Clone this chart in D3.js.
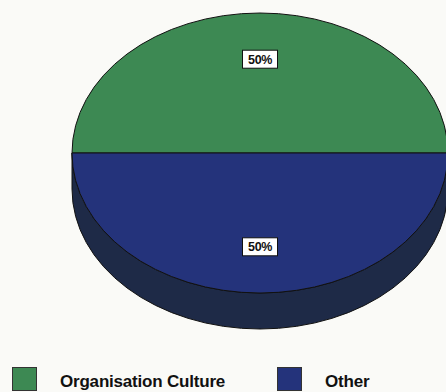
<!DOCTYPE html>
<html>
<head>
<meta charset="utf-8">
<script src="https://cdn.jsdelivr.net/npm/d3@7"></script>
<style>
  html, body { margin: 0; padding: 0; background: #fafaf7; }
  svg { display: block; }
  text { font-family: "Liberation Sans", Arial, sans-serif; font-weight: bold; }
</style>
</head>
<body>
<svg id="chart" width="446" height="392"></svg>
<script>
// Share of responses by category
const categories = ["Organisation Culture", "Other"];
const values = [50, 50];
const topColors = ["#3d8953", "#24337b"];
const sideColors = ["#1f3a2a", "#1e2a47"];

const W = 446, H = 392;
const cx = 260, cy = 153;      // centre of the top face
const rx = 188, ry = 140;      // ellipse radii of the top face
const depth = 36;              // thickness of the disc
const labelK = 0.67;           // label distance as fraction of radius

const svg = d3.select("#chart");

const color = d3.scaleOrdinal().domain(categories).range(topColors);
const sideColor = d3.scaleOrdinal().domain(categories).range(sideColors);

const data = categories.map((c, i) => ({ name: c, value: values[i] }));
const total = d3.sum(values);

// Slices start at 9 o'clock so the first one covers the far half of the disc
const pie = d3.pie().value(d => d.value).sort(null)
  .startAngle(-Math.PI / 2).endAngle(3 * Math.PI / 2);
const slices = pie(data);

const px = (a, k = 1) => cx + rx * k * Math.sin(a);
const py = (a, k = 1, dy = 0) => cy - ry * k * Math.cos(a) + dy;

function topPath(d) {
  const a0 = d.startAngle, a1 = d.endAngle;
  const large = (a1 - a0) > Math.PI ? 1 : 0;
  return `M${cx},${cy}L${px(a0)},${py(a0)}A${rx},${ry} 0 ${large} 1 ${px(a1)},${py(a1)}Z`;
}

// Outer wall, only for the part of a slice that faces the viewer (angles π/2..3π/2)
function sidePath(d) {
  const a0 = Math.max(d.startAngle, Math.PI / 2);
  const a1 = Math.min(d.endAngle, 3 * Math.PI / 2);
  if (a1 <= a0) return null;
  const large = (a1 - a0) > Math.PI ? 1 : 0;
  return `M${px(a0)},${py(a0)}A${rx},${ry} 0 ${large} 1 ${px(a1)},${py(a1)}` +
         `L${px(a1)},${py(a1, 1, depth)}A${rx},${ry} 0 ${large} 0 ${px(a0)},${py(a0, 1, depth)}Z`;
}

const g = svg.append("g");

g.selectAll("path.side")
  .data(slices.filter(d => sidePath(d)))
  .join("path")
  .attr("class", "side")
  .attr("d", sidePath)
  .attr("fill", d => sideColor(d.data.name))
  .attr("stroke", "#111")
  .attr("stroke-width", 1);

g.selectAll("path.top")
  .data(slices)
  .join("path")
  .attr("class", "top")
  .attr("d", topPath)
  .attr("fill", d => color(d.data.name))
  .attr("stroke", "#111")
  .attr("stroke-width", 1);

// Percentage labels in white boxes
const fmt = d3.format(".0%");
const labels = g.selectAll("g.lbl")
  .data(slices)
  .join("g")
  .attr("class", "lbl")
  .attr("transform", d => {
    const m = (d.startAngle + d.endAngle) / 2;
    return `translate(${px(m, labelK)},${py(m, labelK)})`;
  });

labels.append("rect")
  .attr("x", -17.5).attr("y", -9)
  .attr("width", 35).attr("height", 18)
  .attr("fill", "#fff")
  .attr("stroke", "#111")
  .attr("stroke-width", 1);

labels.append("text")
  .attr("text-anchor", "middle")
  .attr("dy", "0.36em")
  .attr("font-size", 12.5)
  .attr("letter-spacing", -0.4)
  .attr("fill", "#111")
  .text(d => fmt(d.data.value / total));

// Legend
const legendX = [12, 277];
const legend = svg.selectAll("g.legend")
  .data(categories)
  .join("g")
  .attr("class", "legend")
  .attr("transform", (d, i) => `translate(${legendX[i]},367)`);

legend.append("rect")
  .attr("x", 0.5).attr("y", 0.5)
  .attr("width", 24).attr("height", 23)
  .attr("fill", d => color(d))
  .attr("stroke", "#333")
  .attr("stroke-width", 1);

legend.append("text")
  .attr("x", 48)
  .attr("y", 20)
  .attr("font-size", 17)
  .attr("letter-spacing", -0.2)
  .attr("fill", "#111")
  .text(d => d);
</script>
</body>
</html>
